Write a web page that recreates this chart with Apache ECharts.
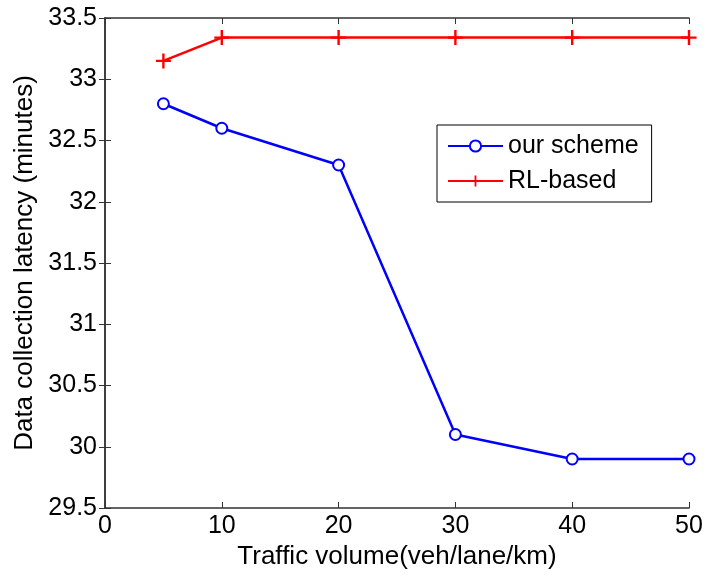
<!DOCTYPE html>
<html>
<head>
<meta charset="utf-8">
<script src="https://cdn.jsdelivr.net/npm/echarts@6/dist/echarts.min.js"></script>
<style>
  html, body { margin: 0; padding: 0; background: #fff; }
  #chart { width: 706px; height: 578px; }
</style>
</head>
<body>
<div id="chart"></div>
<script>
// Traffic volume (veh/lane/km)
const trafficVolume = [5, 10, 20, 30, 40, 50];
// Data collection latency in minutes
const ourScheme = [32.8, 32.6, 32.3, 30.1, 29.9, 29.9];
const rlBased = [33.15, 33.34, 33.34, 33.34, 33.34, 33.34];

const xTicks = [0, 10, 20, 30, 40, 50];
const yTicks = [29.5, 30, 30.5, 31, 31.5, 32, 32.5, 33, 33.5];

const FONT = 'Liberation Sans, Arial, sans-serif';
const AXIS_COLOR = '#333333';

const pairs = (xs, ys) => xs.map((x, i) => [x, ys[i]]);

// plus-sign marker drawn as a thin filled cross
const plusPath = 'path://M-0.16,-1 L0.16,-1 L0.16,-0.16 L1,-0.16 L1,0.16 L0.16,0.16 L0.16,1 L-0.16,1 L-0.16,0.16 L-1,0.16 L-1,-0.16 L-0.16,-0.16 Z';

const chart = echarts.init(document.getElementById('chart'), null, { renderer: 'canvas' });

const baseAxis = {
  axisLine: { show: true, lineStyle: { color: AXIS_COLOR, width: 1.5 } },
  axisTick: { show: true, inside: true, length: 6, lineStyle: { color: AXIS_COLOR, width: 1 } },
  splitLine: { show: false }
};

chart.setOption({
  animation: false,
  backgroundColor: '#ffffff',
  grid: { left: 105, right: 17, top: 18, bottom: 70, containLabel: false },
  legend: {
    left: 437, top: 125,
    orient: 'vertical',
    itemWidth: 55, itemHeight: 14, itemGap: 9,
    padding: [8, 13, 8, 10],
    borderColor: '#000', borderWidth: 1, borderRadius: 0,
    backgroundColor: '#fff',
    textStyle: { fontFamily: FONT, fontSize: 25, lineHeight: 26, color: '#000' },
    data: ['our scheme', 'RL-based']
  },
  xAxis: [
    Object.assign({}, baseAxis, {
      type: 'value', min: 0, max: 50, interval: 10,
      name: 'Traffic volume(veh/lane/km)', nameLocation: 'middle', nameGap: 29,
      nameTextStyle: { fontFamily: FONT, fontSize: 26, color: '#000' },
      axisLabel: {
        fontFamily: FONT, fontSize: 25, color: '#000', margin: 6,
        formatter: v => xTicks.includes(v) ? String(v) : ''
      }
    }),
    Object.assign({}, baseAxis, {
      type: 'value', min: 0, max: 50, interval: 10, position: 'top',
      axisLabel: { show: false }
    })
  ],
  yAxis: [
    Object.assign({}, baseAxis, {
      type: 'value', min: 29.5, max: 33.5, interval: 0.5,
      name: 'Data collection latency (minutes)', nameLocation: 'middle', nameGap: 66,
      nameTextStyle: { fontFamily: FONT, fontSize: 26, color: '#000' },
      axisLabel: {
        fontFamily: FONT, fontSize: 25, color: '#000', margin: 8,
        formatter: v => yTicks.includes(v) ? String(v) : ''
      }
    }),
    Object.assign({}, baseAxis, {
      type: 'value', min: 29.5, max: 33.5, interval: 0.5, position: 'right',
      axisLabel: { show: false }
    })
  ],
  series: [
    {
      name: 'our scheme', type: 'line',
      data: pairs(trafficVolume, ourScheme),
      symbol: 'emptyCircle', symbolSize: 11,
      lineStyle: { color: '#0000ff', width: 2.5 },
      itemStyle: { color: '#0000ff', borderColor: '#0000ff', borderWidth: 2 }
    },
    {
      name: 'RL-based', type: 'line',
      data: pairs(trafficVolume, rlBased),
      symbol: plusPath, symbolSize: 15,
      lineStyle: { color: '#ff0000', width: 2.5 },
      itemStyle: { color: '#ff0000' }
    }
  ]
});
</script>
</body>
</html>
